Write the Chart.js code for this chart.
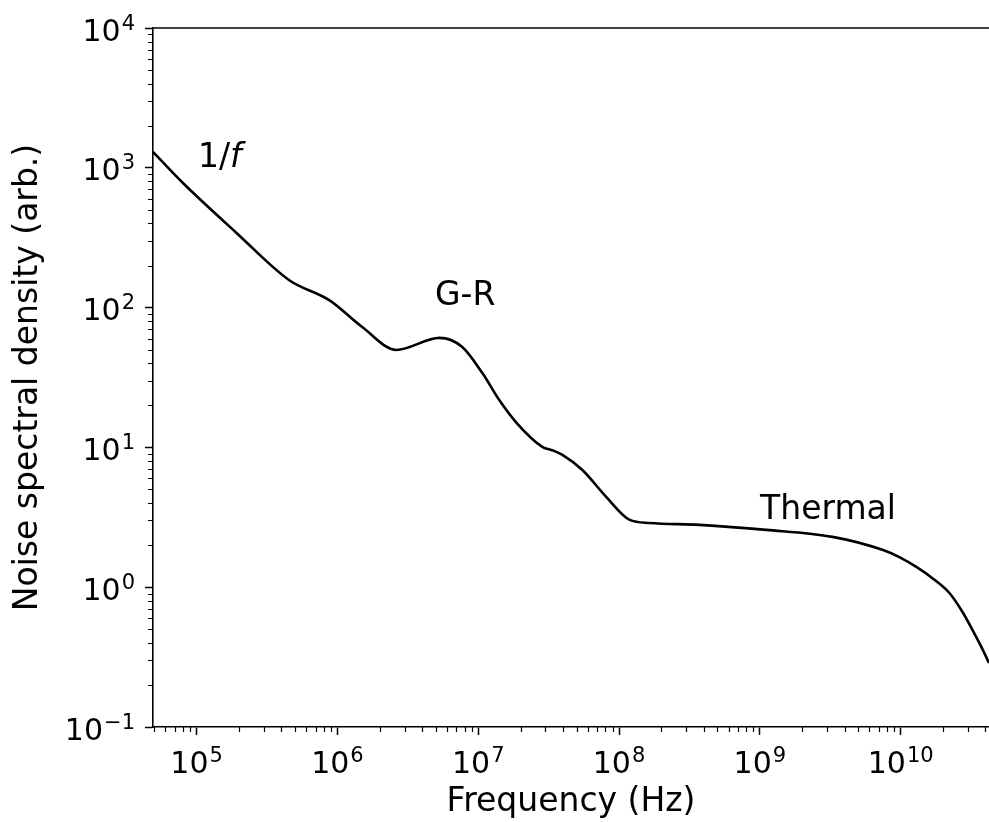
<!DOCTYPE html>
<html><head><meta charset="utf-8">
<script src="https://cdn.jsdelivr.net/npm/chart.js@4.4.1/dist/chart.umd.min.js"></script>
<style>html,body{margin:0;padding:0;background:#fff;overflow:hidden}#wrap{width:989px;height:822px;position:relative}</style>
</head><body><div id="wrap"><canvas id="c"></canvas></div>
<script>
// ---- data ----
const frequencyHz = [4.9e4, 8.0e4, 1.92e5, 4.55e5, 8.75e5, 1.5e6, 2.62e6, 5.3e6, 7.7e6, 1.07e7, 1.41e7, 1.87e7, 2.85e7, 3.4e7, 3.96e7, 5.49e7, 8.13e7, 1.19e8, 1.65e8, 3.72e8, 1.11e9, 3.28e9, 7.42e9, 9.79e9, 1.3e10, 1.68e10, 2.22e10, 2.75e10, 3.24e10, 3.75e10, 4.24e10];
const noisePSD    = [1300, 778, 342, 157, 113, 72.6, 49.8, 60.7, 52.3, 34.0, 21.8, 15.0, 10.1, 9.5, 8.83, 6.89, 4.41, 3.03, 2.88, 2.79, 2.57, 2.29, 1.85, 1.64, 1.39, 1.16, 0.909, 0.665, 0.494, 0.373, 0.287];
const tickBase = '10';
const xTickValues = [1e5, 1e6, 1e7, 1e8, 1e9, 1e10];
const xTickExponents = ['5', '6', '7', '8', '9', '10'];
const yTickValues = [1e-1, 1e0, 1e1, 1e2, 1e3, 1e4];
const yTickExponents = ['\u22121', '0', '1', '2', '3', '4'];
const annotationTexts = ['1/f', 'G-R', 'Thermal'];
const annotationX = [1.46e5, 8.07e6, 3.05e9];
const annotationY = [1014, 104.5, 3.08];
const xRange = [4.9e4, 4.24e10];
const yRange = [0.1, 1e4];
const xTitle = 'Frequency (Hz)';
const yTitle = 'Noise spectral density (arb.)';

const FONT = 'DejaVu Sans';
const points = frequencyHz.map((f, i) => ({x: f, y: noisePSD[i]}));

function minorValues(min, max) {
  const out = [];
  for (let e = Math.floor(Math.log10(min)); e <= Math.ceil(Math.log10(max)); e++) {
    for (let m = 2; m <= 9; m++) {
      const v = m * Math.pow(10, e);
      if (v >= min * 0.9999 && v <= max * 1.0001) out.push(v);
    }
  }
  return out;
}

function powerLabel(ctx, exp, x, baseline, align) {
  ctx.font = '30px "' + FONT + '"';
  const wb = ctx.measureText(tickBase).width;
  ctx.font = '21px "' + FONT + '"';
  const we = ctx.measureText(exp).width;
  const total = wb + we + 1;
  let x0 = align === 'center' ? x - total / 2 : x - total;
  ctx.textAlign = 'left';
  ctx.textBaseline = 'alphabetic';
  ctx.font = '30px "' + FONT + '"';
  ctx.fillText(tickBase, x0, baseline);
  ctx.font = '21px "' + FONT + '"';
  ctx.fillText(exp, x0 + wb + 1, baseline - 11);
}

const decor = {
  id: 'decor',
  afterDraw(chart) {
    const ctx = chart.ctx, ca = chart.chartArea;
    const xs = chart.scales.x, ys = chart.scales.y;
    ctx.save();
    // top spine
    ctx.strokeStyle = '#000'; ctx.lineWidth = 1.6;
    ctx.beginPath(); ctx.moveTo(ca.left, ca.top); ctx.lineTo(ca.right, ca.top); ctx.stroke();
    // minor ticks
    ctx.lineWidth = 1.2;
    ctx.beginPath();
    minorValues(xRange[0], xRange[1]).forEach(v => {
      const px = Math.round(xs.getPixelForValue(v)) + 0.5;
      ctx.moveTo(px, ca.bottom); ctx.lineTo(px, ca.bottom + 5);
    });
    minorValues(yRange[0], yRange[1]).forEach(v => {
      const py = Math.round(ys.getPixelForValue(v)) + 0.5;
      ctx.moveTo(ca.left, py); ctx.lineTo(ca.left - 5, py);
    });
    ctx.stroke();
    // tick labels
    ctx.fillStyle = '#000';
    xTickValues.forEach((v, i) => {
      powerLabel(ctx, xTickExponents[i], xs.getPixelForValue(v), ca.bottom + 46, 'center');
    });
    yTickValues.forEach((v, i) => {
      powerLabel(ctx, yTickExponents[i], ca.left - 18, ys.getPixelForValue(v) + 12.5, 'right');
    });
    // annotations
    ctx.textBaseline = 'alphabetic';
    annotationTexts.forEach((t, i) => {
      const px = xs.getPixelForValue(annotationX[i]);
      const py = ys.getPixelForValue(annotationY[i]);
      if (t === '1/f') {
        ctx.font = '33px "' + FONT + '"';
        const a = '1/';
        const wa = ctx.measureText(a).width;
        ctx.font = 'italic 33px "' + FONT + '"';
        const wb = ctx.measureText('f').width;
        let x0 = px - (wa + wb) / 2;
        ctx.font = '33px "' + FONT + '"';
        ctx.textAlign = 'left';
        ctx.fillText(a, x0, py);
        ctx.font = 'italic 33px "' + FONT + '"';
        ctx.fillText('f', x0 + wa, py);
      } else {
        ctx.font = '33px "' + FONT + '"';
        ctx.textAlign = 'center';
        ctx.fillText(t, px, py);
      }
    });
    ctx.restore();
  }
};

new Chart(document.getElementById('c'), {
  type: 'line',
  data: {
    datasets: [{
      data: points,
      borderColor: '#000',
      borderWidth: 2.6,
      pointRadius: 0,
      fill: false,
      cubicInterpolationMode: 'monotone'
    }]
  },
  options: {
    responsive: true,
    maintainAspectRatio: false,
    animation: false,
    layout: {padding: {top: 28, right: 0, left: 0, bottom: 0}},
    plugins: {legend: {display: false}, tooltip: {enabled: false}},
    scales: {
      x: {
        type: 'logarithmic',
        min: xRange[0], max: xRange[1],
        afterBuildTicks: s => { s.ticks = xTickValues.map(v => ({value: v, major: true})); },
        afterFit: s => { s.height = 95; },
        grid: {drawOnChartArea: false, drawTicks: true, tickLength: 8, tickWidth: 1.5, tickColor: '#000'},
        border: {display: true, color: '#000', width: 1.6},
        ticks: {display: false, autoSkip: false},
        title: {display: true, text: xTitle, color: '#000', font: {family: FONT, size: 33}, padding: {top: 0, bottom: 0}}
      },
      y: {
        type: 'logarithmic',
        min: yRange[0], max: yRange[1],
        afterBuildTicks: s => { s.ticks = yTickValues.map(v => ({value: v, major: true})); },
        afterFit: s => { s.width = 153; },
        grid: {drawOnChartArea: false, drawTicks: true, tickLength: 8, tickWidth: 1.5, tickColor: '#000'},
        border: {display: true, color: '#000', width: 1.6},
        ticks: {display: false, autoSkip: false},
        title: {display: true, text: yTitle, color: '#000', font: {family: FONT, size: 33}, padding: {top: 9, bottom: 0}}
      }
    }
  },
  plugins: [decor]
});
</script>
</body></html>
